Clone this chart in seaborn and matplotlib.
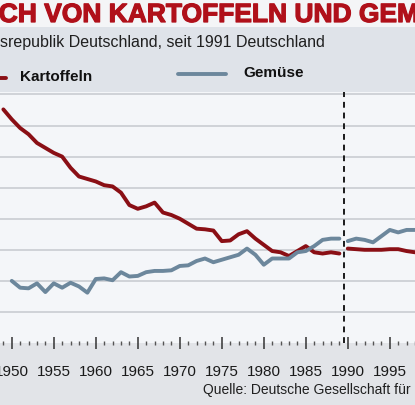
import pandas as pd
import matplotlib.pyplot as plt
import seaborn as sns
import matplotlib.patheffects as pe
from matplotlib.lines import Line2D
from matplotlib.patches import Rectangle

# Pro-Kopf-Verbrauch in kg
years_brd = list(range(1949, 1990))
kartoffeln_brd = [188, 180, 173, 168, 161, 157, 153, 150, 141, 134,
                  132, 130, 127, 126, 121, 111, 108, 110, 113, 105,
                  103, 100, 96, 92, 91.5, 90.5, 82, 82.5, 87.5, 90,
                  84, 79, 74, 73, 70, 74, 78, 73, 72, 73, 72]
years_gemuese_brd = list(range(1950, 1990))
gemuese_brd = [50, 44.5, 44, 48, 41, 48, 44.5, 48.5, 45.5, 40.5,
               51.5, 52, 50.5, 57, 53.5, 54, 57, 58, 58, 58.5,
               62, 62.5, 66, 68, 65, 67, 69, 71, 76, 71,
               63, 68, 68, 68, 73, 74, 78, 83, 84, 84]
years_de = list(range(1990, 1999))
kartoffeln_de = [76, 75.5, 75, 75, 75, 75.5, 75.5, 74, 73]
gemuese_de = [82, 84, 83, 81, 86, 91, 89, 91, 91]

tick_years = list(range(1950, 2000, 5))
grid_levels = list(range(25, 226, 25))

frames = [
    pd.DataFrame({"jahr": years_brd, "kg": kartoffeln_brd, "art": "Kartoffeln", "teil": "brd"}),
    pd.DataFrame({"jahr": years_gemuese_brd, "kg": gemuese_brd, "art": "Gemüse", "teil": "brd"}),
    pd.DataFrame({"jahr": years_de, "kg": kartoffeln_de, "art": "Kartoffeln", "teil": "de"}),
    pd.DataFrame({"jahr": years_de, "kg": gemuese_de, "art": "Gemüse", "teil": "de"}),
]
data = pd.concat(frames, ignore_index=True)

red = "#8a0f15"
blue = "#6c879c"
fonts = ["Liberation Sans Narrow", "Liberation Sans", "DejaVu Sans"]

sns.set_style("white")
plt.rcParams["font.family"] = fonts

W, H = 415, 405
fig = plt.figure(figsize=(W / 100, H / 100), dpi=100, facecolor="#dfe3e9")

# white strip behind title, grey band under the axis
fig.patches.append(Rectangle((0, 1 - 27 / H), 1, 27 / H, transform=fig.transFigure,
                             facecolor="#f4f5f7", edgecolor="none", zorder=-2))
fig.patches.append(Rectangle((0, 0), 1, (H - 343) / H, transform=fig.transFigure,
                             facecolor="#e2e4e8", edgecolor="none", zorder=-2))

ax = fig.add_axes([0, (H - 343) / H, 1, (343 - 92) / H])
ax.set_zorder(1)
ax.set_facecolor("#f4f6f9")

sns.lineplot(data=data, x="jahr", y="kg", hue="art", units="teil", estimator=None,
             palette={"Kartoffeln": red, "Gemüse": blue}, linewidth=2.8,
             legend=False, ax=ax, zorder=3)

for lv in grid_levels:
    ax.axhline(lv, color="#c9cdd2", linewidth=1.2, zorder=1)
ax.axvline(1989.6, color="#1a1a1a", linewidth=1.4, linestyle=(0, (3, 2.5)), zorder=4)

ax.set_xlim(1948.6, 1998.0)
ax.set_ylim(0, 202)
ax.set_xticks(tick_years)
ax.set_xticks(range(1949, 1999), minor=True)
ax.set_yticks([])
ax.set_xlabel("")
ax.set_ylabel("")
for s in ax.spines.values():
    s.set_visible(False)
ax.tick_params(axis="x", which="major", direction="inout", length=8, width=1.1,
               color="#333333", labelsize=11, pad=12, labelcolor="#1a1a1a",
               bottom=True, labelbottom=True)
ax.tick_params(axis="x", which="minor", direction="inout", length=3, width=1.0,
               color="#555555", bottom=True)

# header texts
heavy = [pe.withStroke(linewidth=0.9, foreground="#b0101a")]
fig.text(-0.003, 1 - 15 / H, "CH VON KARTOFFELN UND GEMÜSE", color="#b0101a",
         fontsize=19, fontweight="bold", va="center", ha="left", family=fonts,
         path_effects=heavy)
fig.text(0, 1 - 42 / H, "srepublik Deutschland, seit 1991 Deutschland", color="#1f1f1f",
         fontsize=11.5, va="center", ha="left", family=fonts)

fig.lines.append(Line2D([-5 / W, 6 / W], [1 - 78 / H] * 2, transform=fig.transFigure,
                        color=red, linewidth=2.8))
fig.text(20 / W, 1 - 77 / H, "Kartoffeln", color="#111111", fontsize=11,
         fontweight="bold", va="center", ha="left", family=fonts)
fig.lines.append(Line2D([178 / W, 226 / W], [1 - 74 / H] * 2, transform=fig.transFigure,
                        color=blue, linewidth=2.8))
fig.text(243 / W, 1 - 73 / H, "Gemüse", color="#111111", fontsize=11,
         fontweight="bold", va="center", ha="left", family=fonts)

fig.text(203 / W, 1 - 390 / H, "Quelle: Deutsche Gesellschaft für Ernährung", color="#1f1f1f",
         fontsize=10, va="center", ha="left", family=fonts)

fig.savefig("out.png", dpi=100, facecolor=fig.get_facecolor())
